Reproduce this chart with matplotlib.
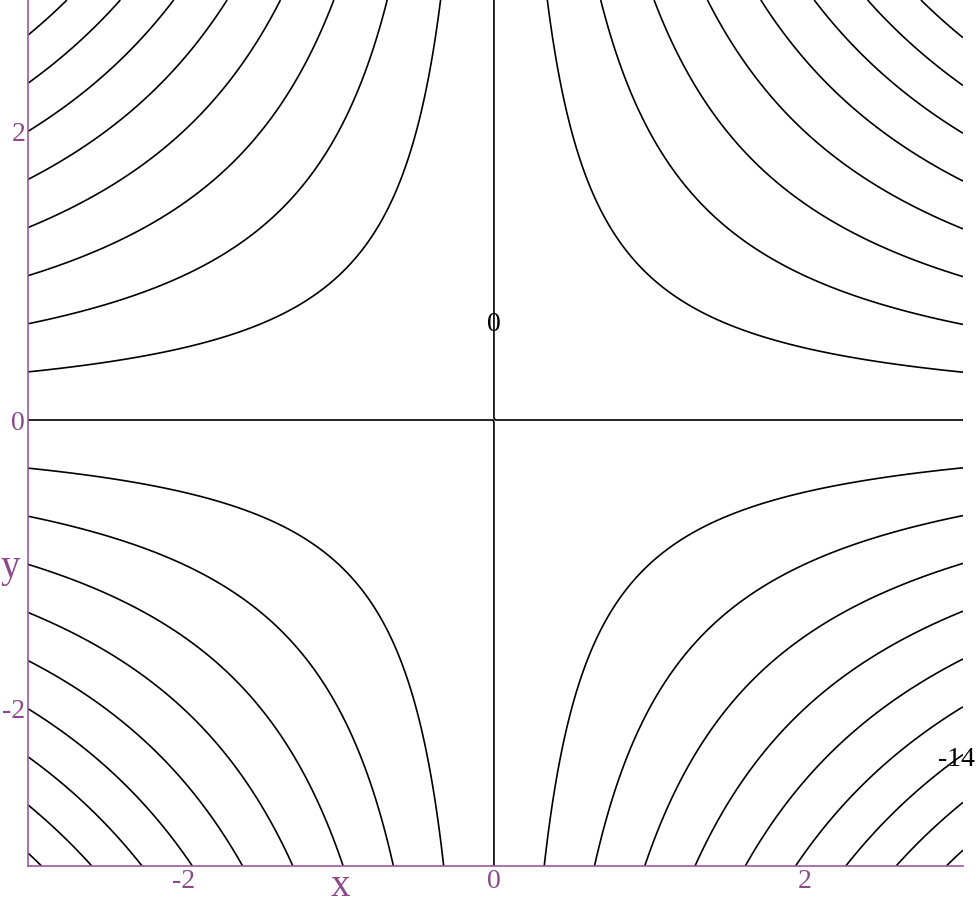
import numpy as np
import matplotlib.pyplot as plt

# function plotted: f(x, y) = 2*x*y
x_range = [-3.0, 3.02]
y_range = [-3.09, 2.91]
levels = list(range(-18, 19, 2))
x_ticks = [-2, 0, 2]
y_ticks = [-2, 0, 2]
label_levels = [0, -14]
label_spots = [(0.0, 0.66), (2.98, -2.35)]

purple = '#8a4a8a'
plt.rcParams['font.family'] = ['Liberation Serif', 'DejaVu Serif']
plt.rcParams['axes.unicode_minus'] = False

x = np.linspace(x_range[0], x_range[1], 401)
y = np.linspace(y_range[0], y_range[1], 401)
X, Y = np.meshgrid(x, y)
Z = 2 * X * Y

fig = plt.figure(figsize=(9.77, 9.05), dpi=100)
ax = fig.add_axes([28 / 977, 39 / 905, 935 / 977, 866 / 905])

cs = ax.contour(X, Y, Z, levels=levels, colors='black', linewidths=1.2,
                linestyles='solid')
# contour labels, horizontal like the original
for lev, (lx, ly) in zip(label_levels, label_spots):
    ax.text(lx, ly, str(lev), fontsize=20, color='black',
            ha='center', va='center', clip_on=False)

ax.set_xlim(x_range)
ax.set_ylim(y_range)
ax.set_xticks(x_ticks)
ax.set_yticks(y_ticks)
ax.tick_params(length=0, labelsize=20, labelcolor=purple, pad=2)
for side in ['top', 'right']:
    ax.spines[side].set_visible(False)
for side in ['left', 'bottom']:
    ax.spines[side].set_color('#9b5aa0')
    ax.spines[side].set_linewidth(1.2)

fig.text(340 / 977, 1 - 896 / 905, 'x', color=purple, fontsize=28,
         ha='center', va='baseline')
fig.text(10 / 977, 1 - 567 / 905, 'y', color=purple, fontsize=28,
         ha='center', va='center')

fig.savefig('out.png', dpi=100)
